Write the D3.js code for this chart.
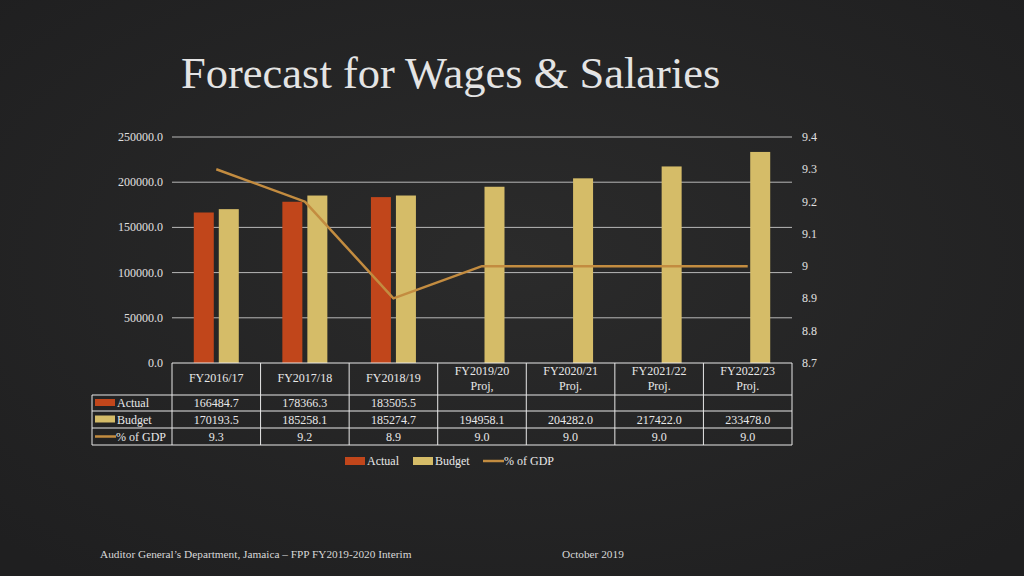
<!DOCTYPE html>
<html><head><meta charset="utf-8">
<script src="https://cdn.jsdelivr.net/npm/d3@7"></script>
<style>
html,body{margin:0;padding:0;background:#262626;}
svg{display:block;font-family:"Liberation Serif","Times New Roman",serif;}
</style></head>
<body><svg id="c" width="1024" height="576"></svg>
<script>
const categories = ["FY2016/17","FY2017/18","FY2018/19","FY2019/20","FY2020/21","FY2021/22","FY2022/23"];
const catSub = ["","","","Proj,","Proj.","Proj.","Proj."];
const actual = [166484.7, 178366.3, 183505.5, null, null, null, null];
const budget = [170193.5, 185258.1, 185274.7, 194958.1, 204282.0, 217422.0, 233478.0];
const gdp = [9.3, 9.2, 8.9, 9.0, 9.0, 9.0, 9.0];
const leftTicks = [0, 50000, 100000, 150000, 200000, 250000];
const rightTicks = [8.7, 8.8, 8.9, 9.0, 9.1, 9.2, 9.3, 9.4];
const seriesNames = ["Actual","Budget","% of GDP"];
const colors = {Actual:"#c1461b", Budget:"#d5bc68", GDP:"#c38c40"};

const svg = d3.select("#c");
const defs = svg.append("defs");
const rg = defs.append("radialGradient").attr("id","bg").attr("cx","50%").attr("cy","45%").attr("r","70%");
rg.append("stop").attr("offset","0%").attr("stop-color","#2b2b2b");
rg.append("stop").attr("offset","100%").attr("stop-color","#1f1f20");
svg.append("rect").attr("width",1024).attr("height",576).attr("fill","url(#bg)");

svg.append("text").attr("x",181).attr("y",88).attr("fill","#e4e4e4")
  .attr("font-size",44.5).text("Forecast for Wages & Salaries");

const L=172, R=792, T=137, B=363;
const FS = 12;
const x = d3.scaleBand().domain(categories).range([L,R]);
const y = d3.scaleLinear().domain([0,250000]).range([B,T]);
const y2 = d3.scaleLinear().domain([8.7,9.4]).range([B,T]);

svg.append("g").selectAll("line").data(leftTicks.filter(d=>d>0)).join("line")
  .attr("x1",L).attr("x2",R).attr("y1",d=>y(d)).attr("y2",d=>y(d))
  .attr("stroke","#b8b8b8").attr("stroke-width",1);

svg.append("g").selectAll("text").data(leftTicks).join("text")
  .attr("x",163).attr("y",d=>y(d)+4).attr("text-anchor","end")
  .attr("fill","#e0e0e0").attr("font-size",FS).text(d=>d3.format(".1f")(d));
svg.append("g").selectAll("text").data(rightTicks).join("text")
  .attr("x",802).attr("y",d=>y2(d)+4).attr("text-anchor","start")
  .attr("fill","#e0e0e0").attr("font-size",FS).text(d=>d3.format("~g")(d));

const bw = 20, gap = 5;
const center = c => x(c) + x.bandwidth()/2;
svg.append("g").selectAll("rect").data(categories.map((c,i)=>({c,v:actual[i]})).filter(d=>d.v!=null)).join("rect")
  .attr("x",d=>center(d.c)-gap/2-bw).attr("width",bw)
  .attr("y",d=>y(d.v)).attr("height",d=>B-y(d.v)).attr("fill",colors.Actual);
svg.append("g").selectAll("rect").data(categories.map((c,i)=>({c,v:budget[i]}))).join("rect")
  .attr("x",d=>center(d.c)+gap/2).attr("width",bw)
  .attr("y",d=>y(d.v)).attr("height",d=>B-y(d.v)).attr("fill",colors.Budget);

const line = d3.line().x((d,i)=>center(categories[i])).y(d=>y2(d));
svg.append("path").datum(gdp).attr("d",line).attr("fill","none")
  .attr("stroke",colors.GDP).attr("stroke-width",2.5).attr("stroke-linejoin","round");

const tc = "#e8e8e8";
const rowsY = [B, 395, 411, 428, 445];
const LL = 92;
const tg = svg.append("g").attr("stroke",tc).attr("stroke-width",1);
tg.append("line").attr("x1",L).attr("x2",R).attr("y1",B).attr("y2",B);
rowsY.slice(1).forEach(yy=>tg.append("line").attr("x1",LL).attr("x2",R).attr("y1",yy).attr("y2",yy));
const bounds = categories.map(c=>x(c)).concat([R]);
bounds.forEach(bx=>tg.append("line").attr("x1",bx).attr("x2",bx).attr("y1",B).attr("y2",445));
tg.append("line").attr("x1",LL).attr("x2",LL).attr("y1",395).attr("y2",445);

categories.forEach((c,i)=>{
  const cx = center(c);
  if(catSub[i]){
    svg.append("text").attr("x",cx).attr("y",375).attr("text-anchor","middle").attr("fill",tc).attr("font-size",FS).text(c);
    svg.append("text").attr("x",cx).attr("y",390).attr("text-anchor","middle").attr("fill",tc).attr("font-size",FS).text(catSub[i]);
  } else {
    svg.append("text").attr("x",cx).attr("y",382).attr("text-anchor","middle").attr("fill",tc).attr("font-size",FS).text(c);
  }
});
const rows = [actual,budget,gdp];
const fmt = d3.format(".1f");
rows.forEach((arr,r)=>{
  const ym = (rowsY[r+1]+rowsY[r+2])/2 + 4;
  arr.forEach((v,i)=>{
    if(v==null) return;
    svg.append("text").attr("x",center(categories[i])).attr("y",ym).attr("text-anchor","middle")
      .attr("fill",tc).attr("font-size",FS).text(fmt(v));
  });
  if(r<2){
    svg.append("rect").attr("x",95).attr("y",ym-8).attr("width",20).attr("height",7)
      .attr("fill",r===0?colors.Actual:colors.Budget);
    svg.append("text").attr("x",117).attr("y",ym).attr("fill",tc).attr("font-size",FS).text(seriesNames[r]);
  } else {
    svg.append("line").attr("x1",95).attr("x2",116).attr("y1",ym-4).attr("y2",ym-4)
      .attr("stroke",colors.GDP).attr("stroke-width",2.5);
    svg.append("text").attr("x",116).attr("y",ym).attr("fill",tc).attr("font-size",FS).text(seriesNames[r]);
  }
});

const lg = svg.append("g");
lg.append("rect").attr("x",345).attr("y",457).attr("width",20).attr("height",8).attr("fill",colors.Actual);
lg.append("text").attr("x",367).attr("y",465).attr("fill",tc).attr("font-size",FS).text("Actual");
lg.append("rect").attr("x",413).attr("y",457).attr("width",20).attr("height",8).attr("fill",colors.Budget);
lg.append("text").attr("x",435).attr("y",465).attr("fill",tc).attr("font-size",FS).text("Budget");
lg.append("line").attr("x1",483).attr("x2",504).attr("y1",461).attr("y2",461).attr("stroke",colors.GDP).attr("stroke-width",2.5);
lg.append("text").attr("x",504).attr("y",465).attr("fill",tc).attr("font-size",FS).text("% of GDP");

svg.append("text").attr("x",100).attr("y",558).attr("fill","#d8d8d8").attr("font-size",11.3)
  .text("Auditor General\u2019s Department, Jamaica \u2013 FPP FY2019-2020 Interim");
svg.append("text").attr("x",562).attr("y",558).attr("fill","#d8d8d8").attr("font-size",11.3).text("October 2019");
</script></body></html>
